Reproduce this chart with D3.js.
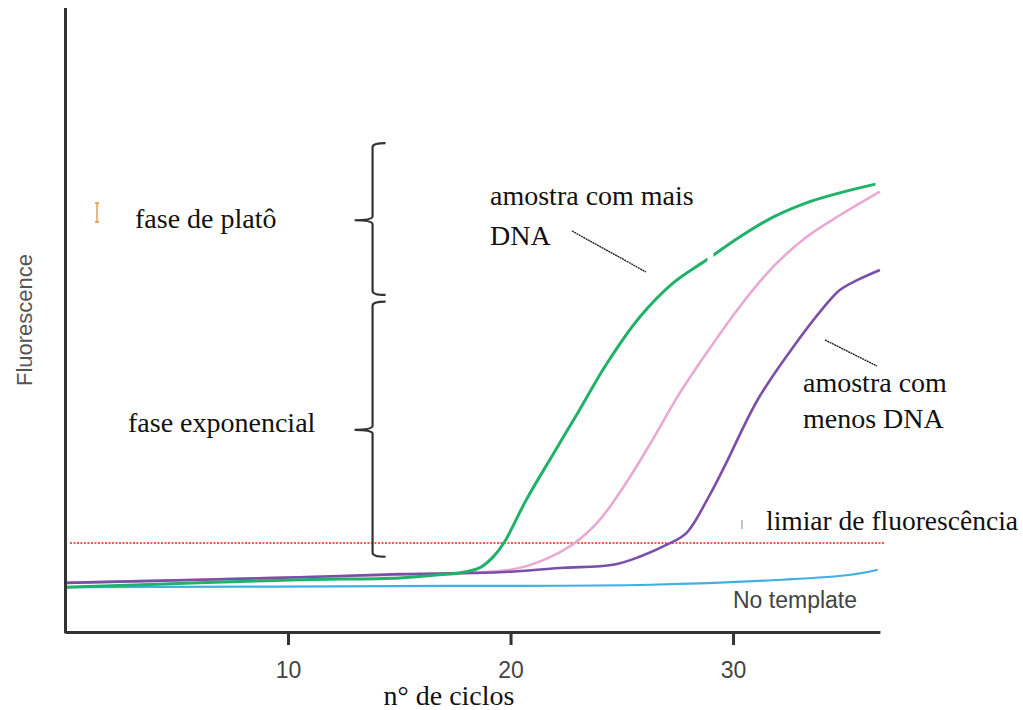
<!DOCTYPE html>
<html>
<head>
<meta charset="utf-8">
<script src="https://cdn.jsdelivr.net/npm/d3@7/dist/d3.min.js"></script>
<style>
  body { margin: 0; background: #fff; }
  svg { display: block; }
  .serif { font-family: "Liberation Serif", "Times New Roman", serif; font-size: 28px; fill: #111; }
  .sans { font-family: "Liberation Sans", Arial, sans-serif; }
</style>
</head>
<body>
<svg id="chart" width="1023" height="710"></svg>
<script>
// cycles vs fluorescence (arbitrary units, 0..100)
const moreDnaCycles = [0, 6, 10.5, 15, 16.8, 17.7, 18.6, 19.2, 19.7, 20.7, 21.9, 23.1, 24.3, 25.8, 27.3, 28.8, 30.3, 31.8, 33.3, 34.8, 36.4]
const moreDnaValues = [7.2, 7.9, 8.4, 8.7, 9.2, 9.5, 10.3, 12.0, 14.3, 21.2, 28.5, 35.7, 43.0, 50.6, 56.1, 59.8, 63.5, 66.7, 69.0, 70.6, 72.0]

const midDnaCycles = [0, 6, 10.5, 15, 17.7, 20, 21.5, 22.8, 24, 25.2, 26.4, 27.5, 28.8, 30.3, 31.8, 33.3, 34.8, 36.6]
const midDnaValues = [7.9, 8.4, 8.8, 9.2, 9.5, 10.0, 11.6, 14.1, 18.0, 24.0, 31.0, 37.8, 44.8, 52.3, 58.7, 63.5, 67.0, 70.8]

const lessDnaCycles = [0, 6, 10.5, 15, 19.5, 22.2, 24.6, 25.8, 27, 27.9, 28.9, 29.6, 31.1, 32.6, 34.1, 34.8, 35.6, 36.6]
const lessDnaValues = [7.9, 8.4, 8.8, 9.3, 9.6, 10.3, 10.8, 12.1, 14.0, 15.9, 21.7, 26.5, 37.3, 45.3, 52.3, 55.0, 56.6, 58.2]

const noTemplateCycles = [0, 17.3, 26.3, 32.2, 35.3, 36.5]
const noTemplateValues = [7.2, 7.4, 7.6, 8.4, 9.2, 10.0]

const threshold = 14.3
const xTicks = [10, 20, 30]

// phase brackets: [top, middle, bottom] in fluorescence units
const plateauBracket = [78.6, 66.2, 54.2]
const expBracket = [53.1, 32.5, 12.1]
const bracketCycle = 13.8

const width = 1023, height = 710

const svg = d3.select('#chart')
svg.append('rect').attr('width', width).attr('height', height).attr('fill', '#fff')

const xScale = d3.scaleLinear().domain([0, 36.6]).range([65.5, 879.9])
const yScale = d3.scaleLinear().domain([0, 100]).range([632, 10])

const zip = (xs, ys) => xs.map((c, i) => ({c: c, v: ys[i]}))

const line = d3.line()
    .x(d => xScale(d.c))
    .y(d => yScale(d.v))
    .curve(d3.curveCatmullRom.alpha(0.5))

// threshold
svg.append('line')
    .attr('x1', xScale(0.2)).attr('x2', xScale(36.8))
    .attr('y1', yScale(threshold)).attr('y2', yScale(threshold))
    .attr('stroke', '#f45656').attr('stroke-width', 1.9)
    .attr('stroke-dasharray', '2,1.5')

// green line has a little break near cycle 29
const defs = svg.append('defs')
const clip = defs.append('clipPath').attr('id', 'gap')
clip.append('rect').attr('x', 0).attr('y', 0).attr('width', xScale(28.85)).attr('height', height)
clip.append('rect').attr('x', xScale(29.12)).attr('y', 0).attr('width', width).attr('height', height)

svg.append('path').datum(zip(noTemplateCycles, noTemplateValues))
    .attr('d', line).attr('fill', 'none').attr('stroke', '#3fb0e2').attr('stroke-width', 2.2)

svg.append('path').datum(zip(midDnaCycles, midDnaValues))
    .attr('d', line).attr('fill', 'none').attr('stroke', '#e9a9d2').attr('stroke-width', 2.6)

svg.append('path').datum(zip(lessDnaCycles, lessDnaValues))
    .attr('d', line).attr('fill', 'none').attr('stroke', '#7a4fa9').attr('stroke-width', 2.6)

svg.append('path').datum(zip(moreDnaCycles, moreDnaValues))
    .attr('d', line).attr('fill', 'none').attr('stroke', '#1fb268').attr('stroke-width', 3)
    .attr('clip-path', 'url(#gap)')

// axes
const xAxis = d3.axisBottom(xScale).tickValues(xTicks).tickSize(13).tickSizeOuter(0).tickPadding(17)
const gx = svg.append('g').attr('transform', 'translate(0,632)').call(xAxis)
gx.select('.domain').attr('stroke', '#333').attr('stroke-width', 3)
gx.selectAll('.tick line').attr('stroke', '#333').attr('stroke-width', 3)
gx.selectAll('.tick text').attr('class', 'sans').attr('font-size', 23).attr('fill', '#444')

const yAxis = d3.axisLeft(yScale).tickValues([]).tickSizeOuter(0)
const gy = svg.append('g').attr('transform', 'translate(65.5,0)').call(yAxis)
gy.select('.domain').attr('stroke', '#333').attr('stroke-width', 3)
    .attr('d', 'M0,' + (yScale(0) + 1.5) + 'V' + (yScale(100) - 2))

svg.append('text').attr('class', 'sans')
    .attr('transform', 'translate(32,320) rotate(-90)')
    .attr('text-anchor', 'middle').attr('font-size', 22).attr('fill', '#555')
    .text('Fluorescence')

svg.append('text').attr('class', 'serif').attr('x', 449).attr('y', 705)
    .attr('text-anchor', 'middle').text('n° de ciclos')

// brackets
const bracket = (b) => {
    const x = xScale(bracketCycle)
    const t = yScale(b[0]), m = yScale(b[1]), btm = yScale(b[2])
    return 'M' + (x + 13) + ',' + t + ' Q' + x + ',' + t + ' ' + x + ',' + (t + 4) +
        ' L' + x + ',' + (m - 4) + ' Q' + x + ',' + m + ' ' + (x - 18) + ',' + m +
        ' Q' + x + ',' + m + ' ' + x + ',' + (m + 4) +
        ' L' + x + ',' + (btm - 4) + ' Q' + x + ',' + btm + ' ' + (x + 13) + ',' + btm
}
svg.selectAll('path.bracket').data([plateauBracket, expBracket]).enter()
    .append('path').attr('class', 'bracket')
    .attr('d', bracket).attr('fill', 'none').attr('stroke', '#333').attr('stroke-width', 2.2)

// annotation text
const notes = [
    {t: 'fase de platô', x: 135, y: 228},
    {t: 'fase exponencial', x: 128, y: 432},
    {t: 'amostra com mais', x: 490, y: 205},
    {t: 'DNA', x: 490, y: 245},
    {t: 'amostra com', x: 803, y: 392},
    {t: 'menos DNA', x: 803, y: 428},
    {t: 'limiar de fluorescência', x: 766, y: 530, w: 252}
]
svg.selectAll('text.note').data(notes).enter()
    .append('text').attr('class', 'serif note')
    .attr('x', d => d.x).attr('y', d => d.y)
    .attr('textLength', d => d.w || null)
    .attr('lengthAdjust', 'spacingAndGlyphs')
    .text(d => d.t)

svg.append('text').attr('class', 'sans').attr('x', 733).attr('y', 608)
    .attr('font-size', 23).attr('fill', '#444').text('No template')

// pointer lines
const pointers = [[572, 231, 646, 272], [825, 340, 877, 366]]
svg.selectAll('line.ptr').data(pointers).enter()
    .append('line').attr('class', 'ptr')
    .attr('x1', d => d[0]).attr('y1', d => d[1]).attr('x2', d => d[2]).attr('y2', d => d[3])
    .attr('stroke', '#222').attr('stroke-width', 1.4).attr('stroke-dasharray', '2,0.6')

// stray marks from the original scan
svg.append('path').attr('d', 'M95,203 H99 M97,203 V222 M95,222 H99')
    .attr('stroke', '#e0913a').attr('stroke-width', 1.3).attr('fill', 'none')
svg.append('line').attr('x1', 742).attr('x2', 742).attr('y1', 520).attr('y2', 529)
    .attr('stroke', '#999').attr('stroke-width', 1.2)
</script>
</body>
</html>
